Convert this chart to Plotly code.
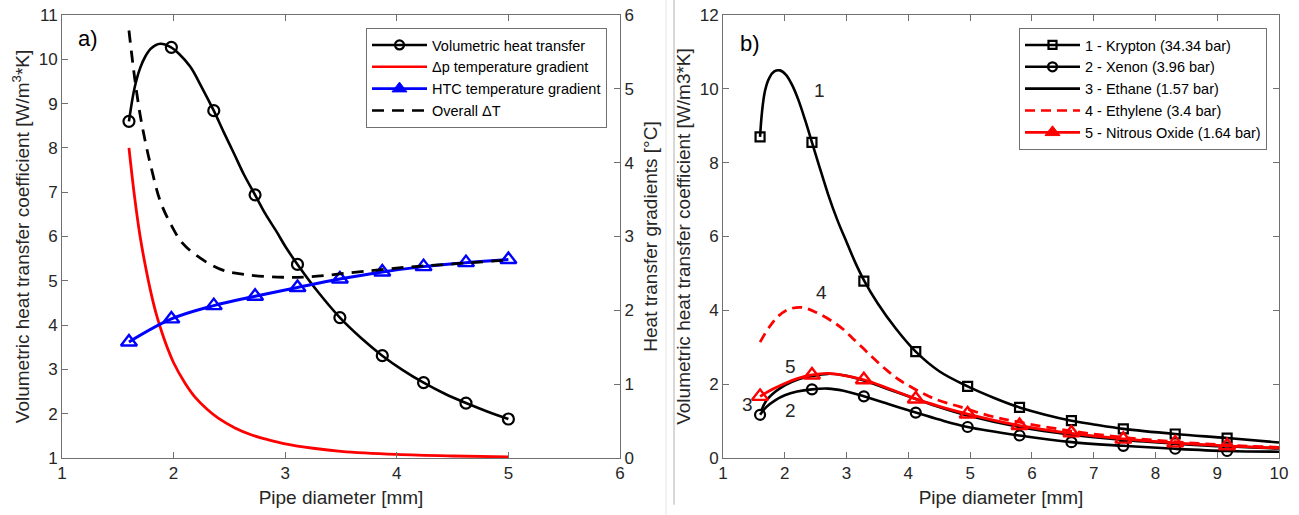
import plotly.graph_objects as go

# ---------------- Panel a) data ----------------
# marker positions (pipe diameter, mm)
a_mark_x = [1.6, 1.98, 2.36, 2.73, 3.11, 3.49, 3.87, 4.24, 4.62, 5.0]
# Volumetric heat transfer coefficient (left axis)
vol_mark_y = [8.6, 10.27, 8.84, 6.94, 5.37, 4.17, 3.31, 2.7, 2.24, 1.88]
vol_x = [1.6, 1.65, 1.7, 1.75, 1.8, 1.88, 1.97, 2.05, 2.15, 2.25, 2.36, 2.45, 2.54, 2.63,
         2.73, 2.82, 2.92, 3.01, 3.11, 3.3, 3.49, 3.68, 3.87, 4.05, 4.24, 4.43, 4.62, 4.81, 5.0]
vol_y = [8.6, 9.35, 9.8, 10.08, 10.25, 10.35, 10.28, 10.12, 9.83, 9.38, 8.84, 8.35, 7.88, 7.4,
         6.94, 6.52, 6.12, 5.74, 5.37, 4.73, 4.17, 3.71, 3.31, 2.99, 2.7, 2.45, 2.24, 2.05, 1.88]
# dp temperature gradient (right axis, degC)
dp_x = [1.6, 1.65, 1.7, 1.75, 1.8, 1.85, 1.9, 1.95, 2.0, 2.1, 2.2, 2.3, 2.4, 2.55, 2.7,
        2.85, 3.0, 3.25, 3.5, 4.0, 4.5, 5.0]
dp_y = [4.2, 3.54, 3.0, 2.58, 2.22, 1.92, 1.68, 1.47, 1.29, 1.02, 0.81, 0.66, 0.54, 0.408,
        0.312, 0.246, 0.192, 0.132, 0.09, 0.048, 0.027, 0.015]
# HTC temperature gradient (right axis, degC)
htc_y = [1.572, 1.884, 2.064, 2.19, 2.31, 2.424, 2.52, 2.592, 2.646, 2.688]
# Overall dT (right axis, degC)
tot_x = [1.6, 1.65, 1.7, 1.75, 1.8, 1.88, 1.97, 2.08, 2.24, 2.44, 2.68, 2.98, 3.22, 3.58,
         4.06, 4.5, 5.0]
tot_y = [5.79, 5.16, 4.65, 4.26, 3.93, 3.48, 3.18, 2.91, 2.706, 2.544, 2.478, 2.448, 2.454,
         2.508, 2.58, 2.628, 2.682]

# ---------------- Panel b) data ----------------
b_mark_x = [1.6, 2.44, 3.28, 4.12, 4.96, 5.8, 6.64, 7.48, 8.32, 9.16]
kr_mark_y = [8.7, 8.55, 4.79, 2.88, 1.94, 1.37, 1.01, 0.79, 0.65, 0.54]
kr_x = [1.6, 1.63, 1.68, 1.75, 1.83, 1.92, 2.02, 2.12, 2.22, 2.33, 2.44, 2.55, 2.7, 2.85,
        3.0, 3.14, 3.28, 3.5, 3.8, 4.12, 4.5, 4.96, 5.4, 5.8, 6.2, 6.64, 7.0, 7.48, 8.32,
        9.16, 10.0]
kr_y = [8.7, 9.35, 9.95, 10.3, 10.47, 10.5, 10.38, 10.1, 9.7, 9.15, 8.55, 7.95, 7.15, 6.45,
        5.85, 5.3, 4.82, 4.2, 3.5, 2.88, 2.35, 1.94, 1.62, 1.37, 1.18, 1.01, 0.91, 0.79,
        0.65, 0.54, 0.42]
xe_mark_y = [1.17, 1.86, 1.67, 1.23, 0.84, 0.61, 0.43, 0.33, 0.25, 0.19]
xe_x = [1.6, 1.7, 1.85, 2.0, 2.2, 2.44, 2.7, 2.95, 3.28, 3.7, 4.12, 4.5, 4.96, 5.8, 6.64,
        7.48, 8.32, 9.16, 10.0]
xe_y = [1.17, 1.38, 1.57, 1.7, 1.8, 1.86, 1.88, 1.82, 1.67, 1.45, 1.23, 1.04, 0.84, 0.61,
        0.43, 0.33, 0.25, 0.19, 0.17]
et_x = [1.63, 1.7, 1.85, 2.0, 2.2, 2.44, 2.7, 2.95, 3.28, 3.7, 4.12, 4.5, 4.96, 5.8, 6.64,
        7.48, 8.32, 9.16, 10.0]
et_y = [1.32, 1.55, 1.8, 1.97, 2.12, 2.22, 2.28, 2.24, 2.1, 1.85, 1.6, 1.38, 1.15, 0.84,
        0.63, 0.49, 0.39, 0.31, 0.26]
ey_x = [1.6, 1.75, 1.9, 2.05, 2.27, 2.5, 2.78, 2.95, 3.1, 3.27, 3.45, 3.65, 3.85, 4.08,
        4.4, 4.83, 5.3, 5.8, 6.64, 7.48, 8.32, 9.16, 10.0]
ey_y = [3.14, 3.55, 3.85, 4.02, 4.08, 3.95, 3.69, 3.48, 3.24, 2.97, 2.68, 2.38, 2.12, 1.89,
        1.62, 1.39, 1.15, 0.97, 0.73, 0.56, 0.44, 0.35, 0.29]
no_mark_y = [1.67, 2.25, 2.12, 1.6, 1.19, 0.88, 0.68, 0.51, 0.41, 0.33]
no_x = [1.6, 1.8, 2.0, 2.2, 2.44, 2.7, 2.95, 3.28, 3.7, 4.12, 4.5, 4.96, 5.8, 6.64, 7.48,
        8.32, 9.16, 10.0]
no_y = [1.67, 1.86, 2.02, 2.15, 2.25, 2.29, 2.24, 2.12, 1.87, 1.6, 1.4, 1.19, 0.88, 0.67,
        0.52, 0.41, 0.33, 0.27]

curve_labels = ["1", "2", "3", "4", "5"]
curve_label_x = [2.57, 2.1, 1.4, 2.6, 2.1]
curve_label_y = [9.95, 1.3, 1.46, 4.47, 2.49]

legend_a = ["Volumetric heat transfer", "\u0394p temperature gradient",
            "HTC temperature gradient", "Overall \u0394T"]
legend_b = ["1 - Krypton (34.34 bar)", "2 - Xenon (3.96 bar)", "3 - Ethane (1.57 bar)",
            "4 - Ethylene (3.4 bar)", "5 - Nitrous Oxide (1.64 bar)"]

FONT = "Liberation Sans, Arial, sans-serif"
TXT = "#262626"
AX = "#707070"
BLACK, RED, BLUE = "#000000", "#ff0000", "#0000ff"

fig = go.Figure()

def line(x, y, color, xa, ya, width=2.6, dash=None):
    fig.add_trace(go.Scatter(x=x, y=y, mode="lines", xaxis=xa, yaxis=ya, showlegend=False,
                             line=dict(color=color, width=width, shape="spline", dash=dash),
                             hoverinfo="skip"))

def marks(x, y, color, symbol, size, xa, ya, lw=2.2):
    fig.add_trace(go.Scatter(x=x, y=y, mode="markers", xaxis=xa, yaxis=ya, showlegend=False,
                             marker=dict(symbol=symbol, size=size, color=color,
                                         line=dict(color=color, width=lw)),
                             hoverinfo="skip"))

def leg(name, legend, color, mode, symbol=None, size=None, dash=None, width=2.6, lw=2.2):
    m = dict(symbol=symbol, size=size, color=color, line=dict(color=color, width=lw)) if symbol else None
    fig.add_trace(go.Scatter(x=[None], y=[None], mode=mode, name=name, legend=legend,
                             line=dict(color=color, width=width, dash=dash), marker=m))

# ---- panel a ----
line(vol_x, vol_y, BLACK, "x", "y", 2.6)
marks(a_mark_x, vol_mark_y, BLACK, "circle-open", 11, "x", "y")
line(dp_x, dp_y, RED, "x", "y2", 2.8)
line(a_mark_x, htc_y, BLUE, "x", "y2", 3.0)
marks(a_mark_x, htc_y, BLUE, "triangle-up-open", 14, "x", "y2", 2.4)
line(tot_x, tot_y, BLACK, "x", "y2", 2.8, "12px,8px")

leg(legend_a[0], "legend", BLACK, "lines+markers", "circle-open", 9)
leg(legend_a[1], "legend", RED, "lines")
leg(legend_a[2], "legend", BLUE, "lines+markers", "triangle-up", 13, lw=1)
leg(legend_a[3], "legend", BLACK, "lines", dash="12px,8px")

# ---- panel b ----
line(kr_x, kr_y, BLACK, "x2", "y3", 2.6)
marks(b_mark_x, kr_mark_y, BLACK, "square-open", 9, "x2", "y3")
line(xe_x, xe_y, BLACK, "x2", "y3", 2.6)
marks(b_mark_x, xe_mark_y, BLACK, "circle-open", 10, "x2", "y3")
line(ey_x, ey_y, RED, "x2", "y3", 2.8, "10px,6px")
line(et_x, et_y, BLACK, "x2", "y3", 2.6)
line(no_x, no_y, RED, "x2", "y3", 2.8)
marks(b_mark_x, no_mark_y, RED, "triangle-up-open", 14, "x2", "y3", 2.4)

leg(legend_b[0], "legend2", BLACK, "lines+markers", "square-open", 8)
leg(legend_b[1], "legend2", BLACK, "lines+markers", "circle-open", 9)
leg(legend_b[2], "legend2", BLACK, "lines")
leg(legend_b[3], "legend2", RED, "lines", dash="10px,6px")
leg(legend_b[4], "legend2", RED, "lines+markers", "triangle-up", 13, lw=1)

W, H = 1299, 515
OFF = 0  # page body margin is removed by the post script below

def px_x(p):
    return (p - OFF) / W

def px_y(p):
    return 1 - (p - OFF) / H

xa_dom = [px_x(62), px_x(620)]
xb_dom = [px_x(723), px_x(1279)]
y_dom = [px_y(458), px_y(15)]

tickfont = dict(family=FONT, size=17, color=TXT)
titlefont = dict(family=FONT, size=19, color=TXT)
common = dict(showline=True, linecolor=AX, linewidth=1, ticks="inside", ticklen=6,
              tickcolor=AX, tickfont=tickfont, showgrid=False, zeroline=False,
              automargin=False, ticklabeloverflow="allow")

annotations = [
    dict(x=1.23, y=10.46, xref="x", yref="y", text="a)", showarrow=False,
         font=dict(family=FONT, size=22, color=BLACK)),
    dict(x=1.44, y=11.24, xref="x2", yref="y3", text="b)", showarrow=False,
         font=dict(family=FONT, size=22, color=BLACK)),
]
for t, x, y in zip(curve_labels, curve_label_x, curve_label_y):
    annotations.append(dict(x=x, y=y, xref="x2", yref="y3", text=t, showarrow=False,
                            font=dict(family=FONT, size=19, color=TXT)))

legend_style = dict(bgcolor="white", bordercolor=AX, borderwidth=1,
                    font=dict(family=FONT, size=14.5, color=BLACK), itemwidth=55,
                    xanchor="right", yanchor="top", tracegroupgap=0)

fig.update_layout(
    width=W, height=H, margin=dict(l=0, r=0, t=0, b=0, autoexpand=False),
    paper_bgcolor="white", plot_bgcolor="white",
    xaxis=dict(domain=xa_dom, range=[1, 6], dtick=1, anchor="y", mirror="ticks",
               title=dict(text="Pipe diameter [mm]", font=titlefont, standoff=8), **common),
    yaxis=dict(domain=y_dom, range=[1, 11], dtick=1, anchor="x",
               title=dict(text="Volumetric heat transfer coefficient [W/m<sup>3</sup>*K]",
                          font=titlefont, standoff=4), **common),
    yaxis2=dict(range=[0, 6], dtick=1, overlaying="y", side="right", anchor="x",
                title=dict(text="Heat transfer gradients [°C]", font=titlefont, standoff=10),
                **common),
    xaxis2=dict(domain=xb_dom, range=[1, 10], dtick=1, anchor="y3", mirror="ticks",
                title=dict(text="Pipe diameter [mm]", font=titlefont, standoff=8), **common),
    yaxis3=dict(domain=y_dom, range=[0, 12], dtick=2, anchor="x2", mirror="ticks",
                title=dict(text="Volumetric heat transfer coefficient [W/m3*K]",
                           font=titlefont, standoff=4), **common),
    legend=dict(x=px_x(607), y=px_y(28), **legend_style),
    legend2=dict(x=px_x(1267), y=px_y(28), **legend_style),
    annotations=annotations,
    shapes=[
        dict(type="line", xref="paper", yref="paper", x0=px_x(666), x1=px_x(666),
             y0=0, y1=1, line=dict(color="#e6e6e6", width=1)),
        dict(type="line", xref="paper", yref="paper", x0=px_x(674), x1=px_x(674),
             y0=0.02, y1=1, line=dict(color="#b0b0b0", width=1)),
    ],
)

fig.write_html("out.html", config={"displayModeBar": False},
               post_script="document.body.style.margin='0px';document.body.style.padding='0px';")
